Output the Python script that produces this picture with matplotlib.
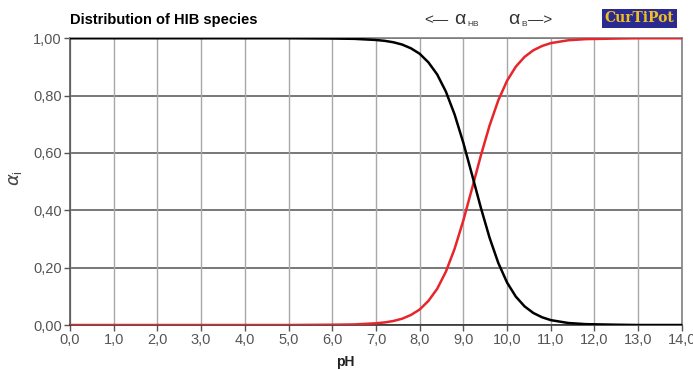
import matplotlib
matplotlib.use("Agg")
import matplotlib.pyplot as plt

plt.rcParams['font.family'] = ['Liberation Sans', 'DejaVu Sans']

# values
ph = [0.0, 1.0, 2.0, 3.0, 4.0, 5.0, 6.0, 6.5, 7.0, 7.2, 7.4, 7.6, 7.8, 8.0, 8.2,
      8.4, 8.6, 8.8, 9.0, 9.2, 9.4, 9.6, 9.8, 10.0, 10.2, 10.4, 10.6, 10.8,
      11.0, 11.4, 11.8, 12.5, 13.0, 14.0]
alpha_hb = [1.0, 1.0, 1.0, 1.0, 1.0, 1.0, 0.999, 0.998, 0.994, 0.991, 0.986,
            0.978, 0.965, 0.946, 0.916, 0.874, 0.814, 0.734, 0.635, 0.523,
            0.409, 0.304, 0.216, 0.148, 0.099, 0.065, 0.042, 0.027, 0.017,
            0.007, 0.003, 0.001, 0.0, 0.0]
alpha_b = [0.0, 0.0, 0.0, 0.0, 0.0, 0.0, 0.001, 0.002, 0.006, 0.009, 0.014,
           0.022, 0.035, 0.054, 0.084, 0.126, 0.186, 0.266, 0.365, 0.477,
           0.591, 0.696, 0.784, 0.852, 0.901, 0.935, 0.958, 0.973, 0.983,
           0.993, 0.997, 0.999, 1.0, 1.0]

xticks = [i * 1.0 for i in range(15)]
yticks = [0.0, 0.2, 0.4, 0.6, 0.8, 1.0]

fig = plt.figure(figsize=(6.93, 3.70), dpi=100)
ax = fig.add_axes([0.101, 0.1216, 0.883, 0.775])

for y in yticks:
    ax.axhline(y, color="#606060", lw=1.2, zorder=1)
for x in xticks:
    ax.axvline(x, color="#a8a8a8", lw=1.0, zorder=1)

ax.plot(ph, alpha_b, color="#e8252a", lw=1.8, zorder=3)
ax.plot(ph, alpha_hb, color="black", lw=1.8, zorder=4)

ax.set_xlim(0, 14)
ax.set_ylim(0, 1)
ax.set_xticks(xticks)
ax.set_xticklabels([f"{v:.1f}".replace(".", ",") for v in xticks])
ax.set_yticks(yticks)
ax.set_yticklabels([f"{v:.2f}".replace(".", ",") for v in yticks])
ax.tick_params(direction="out", length=4, width=1, colors="#555555",
               labelsize=10.5, labelcolor="#555555", pad=2)

ax.spines["left"].set_color("#555555")
ax.spines["bottom"].set_color("#333333")
ax.spines["top"].set_color("#808080")
ax.spines["right"].set_color("#808080")
for s in ax.spines.values():
    s.set_linewidth(1.2)

fig.text(0.498, 0.022, "pH", fontsize=10, fontweight="bold", ha="center",
         va="center", color="#222222")
fig.text(0.022, 0.52, r"$\alpha_\mathregular{i}$", fontsize=13, rotation=90,
         ha="center", va="center", color="#444444")

fig.text(0.101, 0.947, "Distribution of HIB species", fontsize=10.5,
         fontweight="bold", ha="left", va="center")
fig.text(0.612, 0.947, "<—", fontsize=11, ha="left", va="center", color="#333333")
fig.text(0.655, 0.947, "α", fontsize=14, ha="left", va="center", color="#333333")
fig.text(0.674, 0.935, "HB", fontsize=6, ha="left", va="center", color="#333333")
fig.text(0.733, 0.947, "α", fontsize=14, ha="left", va="center", color="#333333")
fig.text(0.752, 0.935, "B", fontsize=6, ha="left", va="center", color="#333333")
fig.text(0.762, 0.947, "—>", fontsize=11, ha="left", va="center", color="#333333")
fig.text(0.923, 0.95, "CurTiPot", fontsize=10, fontweight="bold",
         family="DejaVu Serif", ha="center", va="center", color="#f0c020",
         bbox=dict(boxstyle="square,pad=0.2", fc="#2a2a90", ec="none"))

fig.savefig("out.png", dpi=100)
